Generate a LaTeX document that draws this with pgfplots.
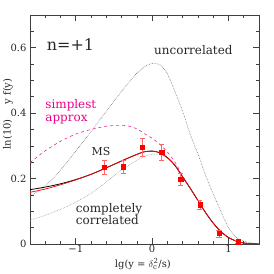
\documentclass[border=0pt]{standalone}
\usepackage{fontspec}
\setmainfont{DejaVu Serif}
\usepackage{pgfplots}
\pgfplotsset{compat=1.18}
\begin{document}
\begin{tikzpicture}
\begin{axis}[
  scale only axis, width=229bp, height=229bp,
  xmin=-1.6, xmax=1.4, ymin=0, ymax=0.7,
  xtick={-1,0,1}, xticklabels={−1,0,1},
  ytick={0,0.2,0.4,0.6}, yticklabels={0,0.2,0.4,0.6},
  minor xtick={-1.4,-1.2,-0.8,-0.6,-0.4,-0.2,0.2,0.4,0.6,0.8,1.2},
  minor ytick={0.05,0.1,0.15,0.25,0.3,0.35,0.45,0.5,0.55,0.65},
  tick align=inside, xtick pos=both, ytick pos=both,
  xticklabel pos=lower, yticklabel pos=left,
  major tick length=6bp, minor tick length=3.5bp,
  axis line style={black!75, line width=0.9bp},
  every tick/.style={black!75, line width=0.7bp},
  tick label style={font=\fontsize{10}{12}\selectfont, text=black!85},
  xticklabel style={yshift=2bp},
  xlabel={lg(y = $\delta_{\mathrm{c}}^{\mathrm{2}}$/s)},
  ylabel={ln(10)\hspace{15bp}y\hspace{3bp}f(y)},
  xlabel style={font=\fontsize{10}{12}\selectfont, text=black!85, at={(axis description cs:0.493,-0.088)}, anchor=center, inner sep=0pt},
  every axis y label/.style={at={(axis description cs:-0.096,0.568)}, rotate=90, anchor=center, inner sep=0pt,
     font=\fontsize{10}{12}\selectfont, text=black!85},
]
% uncorrelated
\addplot[black!55, densely dotted, line width=0.6bp, smooth] coordinates {
(-1.6,0.148) (-1.5,0.160) (-1.4,0.178) (-1.3,0.200) (-1.2,0.226) (-1.1,0.254)
(-1.0,0.284) (-0.9,0.314) (-0.8,0.344) (-0.7,0.375) (-0.6,0.405) (-0.5,0.437)
(-0.4,0.467) (-0.3,0.496) (-0.2,0.522) (-0.1,0.542) (0.0,0.552) (0.1,0.548)
(0.2,0.520) (0.3,0.465) (0.4,0.405) (0.5,0.335) (0.6,0.275) (0.7,0.210)
(0.8,0.154) (0.9,0.100) (1.0,0.050) (1.1,0.020) (1.2,0.009) (1.3,0.003) (1.4,0.001)};
% completely correlated
\addplot[black!40, densely dotted, line width=0.6bp, smooth] coordinates {
(-1.6,0.073) (-1.4,0.088) (-1.2,0.106) (-1.0,0.128) (-0.8,0.155) (-0.6,0.190)
(-0.4,0.226) (-0.2,0.256) (-0.1,0.268) (0.0,0.274) (0.1,0.274) (0.2,0.262)
(0.3,0.238) (0.4,0.204) (0.5,0.170) (0.6,0.133) (0.7,0.096) (0.8,0.064)
(0.9,0.038) (1.0,0.020) (1.1,0.009) (1.2,0.003) (1.3,0.001) (1.4,0.0)};
% simplest approx
\addplot[magenta!85, dashed, line width=0.6bp, smooth] coordinates {
(-1.6,0.249) (-1.4,0.285) (-1.2,0.314) (-1.0,0.336) (-0.8,0.350) (-0.6,0.360)
(-0.4,0.363) (-0.3,0.360) (-0.2,0.352) (-0.1,0.337) (0.0,0.323) (0.1,0.305)
(0.2,0.281) (0.3,0.250) (0.4,0.208) (0.45,0.188)};
% MS black
\addplot[black, line width=0.8bp, smooth] coordinates {
(-1.6,0.166) (-1.4,0.174) (-1.2,0.184) (-1.0,0.197) (-0.8,0.213) (-0.6,0.233)
(-0.4,0.254) (-0.2,0.274) (-0.1,0.282) (0.0,0.284) (0.1,0.279) (0.2,0.264)
(0.3,0.240) (0.4,0.205) (0.5,0.170) (0.6,0.133) (0.7,0.096) (0.8,0.064)
(0.9,0.038) (1.0,0.020) (1.1,0.009) (1.2,0.003) (1.3,0.001) (1.4,0.0)};
% red
\addplot[red, line width=0.7bp, smooth] coordinates {
(-1.6,0.158) (-1.4,0.168) (-1.2,0.181) (-1.0,0.196) (-0.8,0.213) (-0.6,0.233)
(-0.4,0.254) (-0.2,0.274) (-0.1,0.282) (0.0,0.284) (0.1,0.279) (0.2,0.264)
(0.3,0.240) (0.4,0.205) (0.5,0.170) (0.6,0.133) (0.7,0.096) (0.8,0.064)
(0.9,0.038) (1.0,0.020) (1.1,0.009) (1.2,0.003) (1.3,0.001) (1.4,0.0)};
% data
\addplot[only marks, mark=square*, mark size=2.1bp, red, mark options={fill=red},
  error bars/.cd, y dir=both, y explicit,
  error bar style={red!60, line width=0.6bp},
  error mark options={rotate=90, red!60, mark size=2.6bp, line width=0.6bp}]
 coordinates {
(-0.625,0.234) +- (0,0.022)
(-0.375,0.236) +- (0,0.020)
(-0.125,0.295) +- (0,0.027)
(0.125,0.280) +- (0,0.025)
(0.375,0.197) +- (0,0.018)
(0.625,0.120) +- (0,0.015)
(0.875,0.032) +- (0,0.010)
(1.125,0.007) +- (0,0.005)};
\node[font=\fontsize{16}{18}\selectfont, text=black!85] at (axis cs:-1.07,0.61) {n=+1};
\node[font=\fontsize{12}{13}\selectfont, text=black!85] at (axis cs:0.54,0.594) {uncorrelated};
\node[font=\fontsize{12}{13}\selectfont, text=magenta, align=left, anchor=west, inner sep=0pt] at (axis cs:-1.4,0.403) {simplest\\approx};
\node[font=\fontsize{11}{13}\selectfont, text=black!85] at (axis cs:-0.67,0.282) {MS};
\node[font=\fontsize{12}{12.5}\selectfont, text=black!85, align=left, anchor=west, inner sep=0pt] at (axis cs:-1.0,0.091) {completely\\correlated};
\end{axis}
\pgfresetboundingbox
\path ([shift={(-30bp,-30bp)}]current axis.south west) rectangle ([shift={(15bp,15bp)}]current axis.north east);
\end{tikzpicture}
\end{document}
